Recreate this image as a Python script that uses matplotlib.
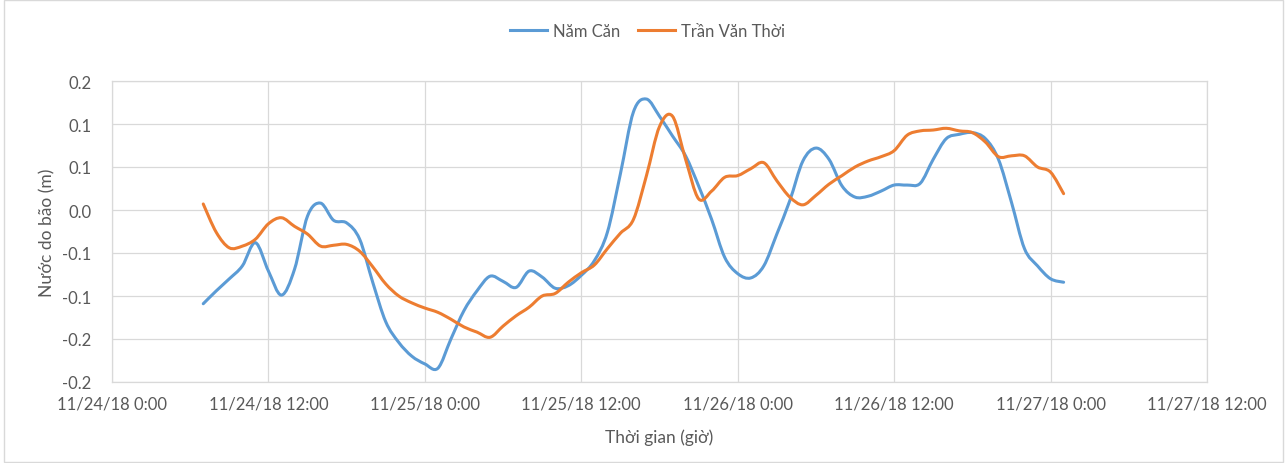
import numpy as np
import pandas as pd
import matplotlib.pyplot as plt
import matplotlib.dates as mdates
from matplotlib.path import Path
from matplotlib.patches import PathPatch, Rectangle
from matplotlib.lines import Line2D

plt.rcParams['font.family'] = ['Lato', 'DejaVu Sans']

# hourly readings, 11/24/18 7:00 -> 11/27/18 1:00
times = pd.date_range('2018-11-24 07:00', '2018-11-27 01:00', freq='h')

nam_can = [
    -0.109, -0.094, -0.080, -0.065, -0.038, -0.071, -0.099, -0.069, -0.007, 0.008,
    -0.012, -0.015, -0.034, -0.084, -0.130, -0.154, -0.170, -0.179, -0.184, -0.150,
    -0.117, -0.094, -0.077, -0.083, -0.090, -0.071, -0.078, -0.091, -0.088, -0.076,
    -0.059, -0.026, 0.042, 0.114, 0.129, 0.109, 0.086, 0.063, 0.028, -0.011,
    -0.055, -0.074, -0.079, -0.065, -0.028, 0.011, 0.057, 0.072, 0.059, 0.028,
    0.015, 0.016, 0.022, 0.029, 0.029, 0.031, 0.059, 0.083, 0.088, 0.090,
    0.083, 0.059, 0.009, -0.045, -0.065, -0.080, -0.084,
]

tran_van_thoi = [
    0.007, -0.026, -0.044, -0.042, -0.034, -0.016, -0.009, -0.019, -0.028, -0.042,
    -0.041, -0.040, -0.048, -0.066, -0.086, -0.100, -0.108, -0.114, -0.119, -0.127,
    -0.136, -0.142, -0.148, -0.135, -0.123, -0.113, -0.100, -0.097, -0.084, -0.073,
    -0.064, -0.045, -0.027, -0.011, 0.040, 0.097, 0.109, 0.059, 0.013, 0.022,
    0.038, 0.040, 0.048, 0.055, 0.034, 0.015, 0.006, 0.017, 0.030, 0.040,
    0.050, 0.057, 0.062, 0.069, 0.087, 0.092, 0.093, 0.095, 0.092, 0.090,
    0.079, 0.062, 0.063, 0.063, 0.050, 0.044, 0.019,
]

y_ticks = [-0.2, -0.15, -0.1, -0.05, 0.0, 0.05, 0.1, 0.15]
y_tick_labels = ['-0.2', '-0.2', '-0.1', '-0.1', '0.0', '0.1', '0.1', '0.2']
x_ticks = pd.date_range('2018-11-24 00:00', '2018-11-27 12:00', freq='12h')
x_tick_labels = [f"{t.month}/{t.day}/{t.strftime('%y')} {t.hour}:{t.minute:02d}" for t in x_ticks]


def smooth_path(x, y):
    # Excel-style smoothed line: Catmull-Rom segments as cubic Bezier curves
    p = np.column_stack([x, y])
    verts = [p[0]]
    codes = [Path.MOVETO]
    n = len(p)
    for i in range(n - 1):
        p0 = p[i - 1] if i > 0 else p[i]
        p3 = p[i + 2] if i + 2 < n else p[i + 1]
        c1 = p[i] + (p[i + 1] - p0) / 6
        c2 = p[i + 1] - (p3 - p[i]) / 6
        verts += [c1, c2, p[i + 1]]
        codes += [Path.CURVE4] * 3
    return Path(verts, codes)


fig = plt.figure(figsize=(12.87, 4.64), dpi=100)
ax = fig.add_axes([112 / 1287, 1 - 383 / 464, 1095 / 1287, 301 / 464])

tnum = mdates.date2num(times.to_pydatetime())
series = [(nam_can, '#5B9BD5', 'Năm Căn'), (tran_van_thoi, '#ED7D31', 'Trần Văn Thời')]
handles = []
for vals, col, name in series:
    ax.add_patch(PathPatch(smooth_path(tnum, vals), fill=False, edgecolor=col, lw=2.2,
                           capstyle='round', joinstyle='round'))
    handles.append(Line2D([], [], color=col, lw=2.2, label=name))

ax.set_xlim(x_ticks[0], x_ticks[-1])
ax.set_ylim(-0.2, 0.15)
ax.set_xticks(x_ticks)
ax.set_xticklabels(x_tick_labels)
ax.set_yticks(y_ticks)
ax.set_yticklabels(y_tick_labels)
ax.tick_params(axis='both', length=0, labelsize=12, labelcolor='#595959')
ax.tick_params(axis='y', pad=15)
ax.tick_params(axis='x', pad=10)

ax.grid(True, color='#d9d9d9', lw=0.9)
ax.set_axisbelow(True)
for s in ax.spines.values():
    s.set_color('#d9d9d9')
    s.set_linewidth(0.9)

ax.set_xlabel('Thời gian (giờ)', fontsize=12.5, color='#595959', labelpad=12)
ax.set_ylabel('Nước do bão (m)', fontsize=12.5, color='#595959', labelpad=5)

fig.legend(handles=handles, loc='center', bbox_to_anchor=(0.503, 0.931), ncol=2, frameon=False,
           fontsize=12, labelcolor='#595959', handlelength=2.2, handletextpad=0.35, columnspacing=1.1)

fig.patches.append(Rectangle((0.003, 0.003), 0.994, 0.994, transform=fig.transFigure,
                             fill=False, edgecolor='#d9d9d9', lw=1))

fig.savefig('out.png', dpi=100)
